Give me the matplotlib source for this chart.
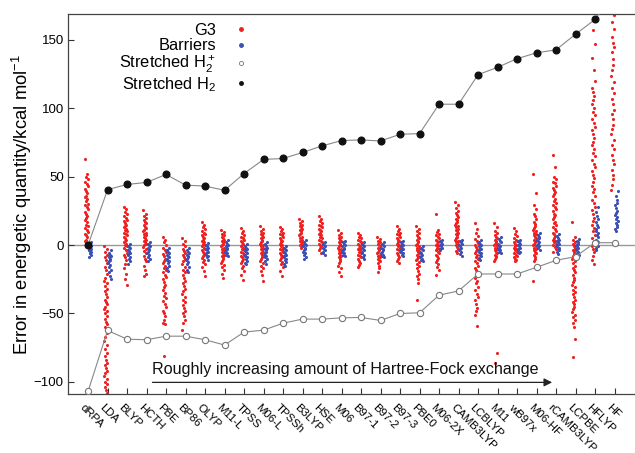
import matplotlib
matplotlib.use("Agg")
import matplotlib.pyplot as plt
from matplotlib.lines import Line2D
from matplotlib.transforms import ScaledTranslation

plt.rcParams['font.family'] = ['Liberation Sans', 'DejaVu Sans']
plt.rcParams['mathtext.fontset'] = 'custom'
plt.rcParams['mathtext.rm'] = 'Liberation Sans'
plt.rcParams['mathtext.it'] = 'Liberation Sans:italic'

functionals = ["dRPA", "LDA", "BLYP", "HCTH", "PBE", "BP86", "OLYP", "M11-L", "TPSS",
               "M06-L", "TPSSh", "B3LYP", "HSE", "M06", "B97-1", "B97-2", "B97-3", "PBE0",
               "M06-2X", "CAMB3LYP", "LCBLYP", "M11", "wB97x", "M06-HF", "rCAMB3LYP",
               "LCPBE", "HFLYP", "HF"]

stretched_h2 = [0, 40.5, 44.3, 45.8, 51.6, 43.8, 43.1, 40, 52.3, 62.6, 63.3, 67.7, 72.5,
                76.4, 76.9, 76.1, 81, 81.5, 103, 103, 124.6, 130, 136.3, 140.6, 142.8,
                154.2, 165, 185]
stretched_h2p = [-107, -62.5, -68.9, -69.3, -66.7, -66.7, -69.3, -73.2, -63.7, -62.3, -57.2,
                 -54.2, -54.2, -53.3, -53.0, -55.2, -50.1, -49.6, -36.7, -33.6, -21.2,
                 -21.2, -21.2, -16.3, -11.2, -8.5, 1.7, 1.7]

g3_drpa = [63, 52, 49.5, 48, 46, 44.5, 43, 41, 39.5, 38, 36, 35, 33.5, 32, 30, 29, 27.5, 26, 24.5, 23, 21, 20, 18.5, 17, 15, 14, 12.5, 11, 9.5, 8, 7, 5.5, 4, 3, 1.5, 0.5]
g3_lda = [-1, -3, -5, -7.5, -9, -11, -13, -16, -18, -21, -24, -26, -28, -30, -32.5, -34, -36, -38, -40, -41.5, -43, -45, -47, -48.5, -50, -52, -54, -56, -58, -60, -62, -64.5, -67, -70, -73, -76, -79, -81, -84, -86, -88, -90, -92, -94, -96, -98, -100, -102, -104, -106, -108]
g3_blyp = [28, 26, 24, 22.5, 21, 20, 18.5, 17.5, 16, 15, 14, 13, 12, 11, 10, 9, 8, 7, 6, 5, 4, 3, 2, 1, 0, -1, -2.5, -4, -5.5, -7, -9, -11, -14, -17, -21, -25, -29]
g3_hcth = [25.5, 23, 21.5, 20, 18.5, 17, 16, 15, 13.5, 12.5, 11, 10, 9, 8, 7, 6, 5, 4, 3, 2, 1, 0, -1.5, -3, -4.5, -6, -8, -10, -12, -15, -18, -21, -23]
g3_pbe = [6, 4, 2, 0, -2, -3.5, -5, -6.5, -8, -10, -11.5, -13, -15, -16.5, -18, -20, -22, -23.5, -25, -27, -29, -31, -33, -35, -37, -39, -41, -43, -45.5, -48, -50, -52, -54.5, -57, -58, -81]
g3_bp86 = [5, 3, 1, -1, -3, -4.5, -6, -7.5, -9, -10.5, -12, -14, -16, -18, -20, -22, -24, -26, -28, -30, -32, -34, -36, -38, -40, -42, -44, -46, -48, -50, -52, -55, -57, -62]
g3_olyp = [16.5, 14.5, 13, 11.5, 10, 9, 8, 7, 6, 5, 4, 3, 2, 1, 0, -1, -2, -3, -4, -5, -6.5, -8, -9.5, -11, -12.5, -14, -16, -19, -23]
g3_m11l = [11, 9.5, 8, 7, 6, 5, 4, 3, 2, 1, 0, -1, -2, -3, -4, -5, -6, -7, -8, -9, -10, -11.5, -13, -14.5, -16, -18, -21, -24]
g3_tpss = [12.5, 10.5, 9, 7.5, 6, 5, 4, 3, 2, 1, 0, -1, -2, -3, -4, -5, -6, -7, -8, -9, -10.5, -12, -13.5, -15, -17, -19, -22, -25.5]
g3_m06l = [14, 12, 10.5, 9, 8, 7, 6, 5, 4, 3, 2, 1, 0, -1, -2, -3, -4, -5, -6, -7, -8.5, -10, -11.5, -13, -15, -17, -19, -22, -26]
g3_tpssh = [13.5, 11.5, 10, 9, 8, 7, 6, 5, 4, 3, 2, 1, 0, -1, -2, -3, -4, -5, -6, -7, -8, -9.5, -11, -12.5, -14, -16, -19, -23]
g3_b3lyp = [19, 17.5, 16, 15, 14, 13, 12, 11, 10, 9, 8, 7, 6, 5, 4, 3, 2, 1, 0, -1, -2]
g3_hse = [21, 19, 17.5, 16, 15, 14, 13, 12, 11, 10, 9, 8, 7, 6, 5, 4, 3, 2, 1, 0, -1, -2.5, -4, -6]
g3_m06 = [11, 9, 7.5, 6, 5, 4, 3, 2, 1, 0, -1, -2, -3, -4, -5, -6, -7, -8, -9, -10, -11.5, -13, -15, -17, -19.5, -22.5]
g3_b971 = [9, 7.5, 6, 5, 4, 3, 2, 1, 0, -1, -2, -3, -4, -5, -6, -7, -8, -9, -10, -11.5, -13, -14.5, -16]
g3_b972 = [6, 4.5, 3, 2, 1, 0, -1, -2, -3, -4, -5, -6, -7, -8, -9, -10, -11, -12, -13.5, -15, -17, -19.5]
g3_b973 = [14, 12, 10.5, 9, 8, 7, 6, 5, 4, 3, 2, 1, 0, -1, -2, -3, -4, -5, -6, -7, -8.5, -10, -11.5, -13]
g3_pbe0 = [14, 12, 10, 8.5, 7, 6, 5, 4, 3, 2, 1, 0, -1, -2, -3, -4, -5, -6, -7, -8, -9, -10, -11, -12.5, -14, -15.5, -17, -19, -21, -23, -25, -27.5, -40]
g3_m062x = [22.5, 11, 9.5, 8, 7, 6, 5, 4, 3, 2, 1, 0, -1, -2, -3, -4, -5, -6, -7, -8, -9.5, -11, -12.5, -14, -16, -18, -22]
g3_camb3lyp = [31.5, 29, 27, 25, 23.5, 22, 20.5, 19, 18, 17, 16, 15, 14, 13, 12, 11, 10, 9, 8, 7, 6, 5, 4, 3, 2, 1, 0, -1.5, -3, -4.5, -6]
g3_lcblyp = [16, 12, 9, 6.5, 4.5, 3, 1.5, 0, -1.5, -3, -4.5, -6, -7.5, -9, -10.5, -12, -13.5, -15, -16.5, -18, -20, -22, -24, -26, -28, -30.5, -33, -35.5, -38, -40.5, -43, -46, -48, -51, -59]
g3_m11 = [16, 13, 10.5, 8.5, 7, 6, 5, 4, 3, 2, 1, 0, -1, -2, -3, -4, -5, -6, -7, -8, -9, -10.5, -12, -79, -86]
g3_wb97x = [12.5, 10, 8, 6.5, 5, 4, 3, 2, 1, 0, -1, -2, -3, -4, -5, -6, -7, -8, -9, -10, -11, -12]
g3_m06hf = [52, 38, 29, 26, 23, 21, 19, 17, 15.5, 14, 12.5, 11, 10, 9, 8, 7, 6, 5, 4, 3, 2, 1, 0, -1, -2, -3, -4, -5, -6, -7.5, -9, -10.5, -12, -26]
g3_rcamb3lyp = [65.5, 57, 49.5, 48, 46, 45, 43.5, 41.5, 40, 39, 37, 35.5, 34, 32.5, 31, 29, 28, 26.5, 25, 23, 22, 20.5, 19, 17, 16, 14.5, 13, 12, 10, 9, 8, 6.5, 5, 4, 3, 2, 1, 0, -1.5, -3, -5]
g3_lcpbe = [17, 6, 4, 2.5, 1, -0.5, -2, -3.5, -5, -6.5, -8, -10, -11.5, -13, -15, -17, -18.5, -20, -22, -24, -25.5, -27, -29, -31, -33, -34.5, -36, -38, -40, -42, -43.5, -45, -47, -49, -51, -53, -55, -57, -60, -68.5, -82]
g3_hflyp = [172, 166, 157, 147, 137, 128, 120, 115, 112, 109, 106, 103, 100, 97.5, 95, 92, 89, 86.5, 84, 81, 78, 75.5, 73, 70, 67.5, 65, 62, 59.5, 57, 54, 51.5, 49, 46, 43.5, 41, 38.5, 36, 33, 30.5, 28, 25.5, 23, 20, 17.5, 15, 12.5, 10, 7.5, 5, 3, 1, -1, -3, -5, -8, -11, -14]
g3_hf = [178, 168, 163, 158, 152, 148, 145, 141, 136, 132, 128, 124, 119, 115, 111, 107, 103, 99, 96, 92, 88, 85, 81, 77, 73, 70, 66, 62, 59, 55, 51, 48, 44, 40]

bar_drpa = [2.5, 1, 0, -1, -1.5, -2, -3, -3.5, -4, -5, -6, -7, -8.5, -5.5]
bar_lda = [-4, -5.5, -7, -8, -9, -10, -11, -12, -13, -14.5, -16, -18, -20, -23, -25]
bar_blyp = [1, -0.5, -1.5, -2.5, -3.5, -4.5, -5.5, -6.5, -7.5, -8.5, -10, -12, -14]
bar_hcth = [2.5, 1, 0, -1, -2, -3, -4, -5, -6, -7, -8.5, -10, -12]
bar_pbe = [-2, -3.5, -5, -6, -7, -8, -9, -10, -11, -12, -13.5, -15, -17, -19]
bar_bp86 = [-2.5, -4, -5, -6, -7, -8, -9, -10, -11, -12.5, -14, -16, -18, -20]
bar_olyp = [1.5, 0, -1, -2, -3, -4, -5, -6, -7, -8, -9, -11]
bar_m11l = [4, 2.5, 1, 0, -1, -2, -3, -4, -5, -6, -7, -8]
bar_tpss = [0.5, -1, -2, -3, -4, -5, -6, -7, -8, -9, -10, -11.5, -13, -14]
bar_m06l = [2, 0.5, -1, -2, -3, -4, -5, -6, -7, -8, -9, -10.5, -12, -14]
bar_tpssh = [-1, -2, -3, -4, -5, -6, -7, -8, -9, -10, -11, -12.5, -14, -15]
bar_b3lyp = [4, 2.5, 1, 0, -1, -2, -3, -4, -5, -6, -7, -8.5, -10]
bar_hse = [2, 1, 0, -1, -2, -3, -4, -5, -6, -7]
bar_m06 = [3, 2, 1, 0, -1, -2, -3, -4, -5, -6, -7, -8]
bar_b971 = [2, 1, 0, -1, -2, -3, -4, -5, -6, -7, -8.5, -10]
bar_b972 = [2, 1, 0, -1, -2, -3, -4, -5, -6, -7, -8, -9]
bar_b973 = [3, 2, 1, 0, -1, -2, -3, -4, -5, -6, -7, -8]
bar_pbe0 = [-1, -2, -3, -4, -5, -6, -7, -8, -9, -10, -11, -12]
bar_m062x = [4, 3, 2, 1, 0, -1, -2, -3, -4]
bar_camb3lyp = [4, 3, 2, 1, 0, -1, -2, -3, -4, -5, -6.5, -8]
bar_lcblyp = [3.5, 2, 1, 0, -1, -2, -3, -4, -5, -6, -7, -8, -9.5, -11]
bar_m11 = [6, 4.5, 3, 2, 1, 0, -1, -2, -3, -4, -5, -6]
bar_wb97x = [4, 3, 2, 1, 0, -1, -2, -3, -4, -5, -6]
bar_m06hf = [9, 7.5, 6, 5, 4, 3, 2, 1, 0, -1, -2, -3.5]
bar_rcamb3lyp = [8, 6.5, 5, 4, 3, 2, 1, 0, -1, -2, -3, -4, -5, -6.5]
bar_lcpbe = [4.5, 3, 2, 1, 0, -1, -2, -3, -4, -5, -6, -7, -8, -9]
bar_hflyp = [27.5, 24, 21.5, 19, 17, 15, 13, 11.5, 10, 8.5, 7, 5.5, 4, 3, 2, 1, 0, -1, -2.5, -4]
bar_hf = [39.5, 36, 33, 31, 29, 27, 25, 23.5, 22, 20.5, 19, 17.5, 16, 14.5, 13, 11.5, 10.5, 1]

g3_all = [g3_drpa, g3_lda, g3_blyp, g3_hcth, g3_pbe, g3_bp86, g3_olyp, g3_m11l, g3_tpss,
          g3_m06l, g3_tpssh, g3_b3lyp, g3_hse, g3_m06, g3_b971, g3_b972, g3_b973, g3_pbe0,
          g3_m062x, g3_camb3lyp, g3_lcblyp, g3_m11, g3_wb97x, g3_m06hf, g3_rcamb3lyp,
          g3_lcpbe, g3_hflyp, g3_hf]
bar_all = [bar_drpa, bar_lda, bar_blyp, bar_hcth, bar_pbe, bar_bp86, bar_olyp, bar_m11l,
           bar_tpss, bar_m06l, bar_tpssh, bar_b3lyp, bar_hse, bar_m06, bar_b971, bar_b972,
           bar_b973, bar_pbe0, bar_m062x, bar_camb3lyp, bar_lcblyp, bar_m11, bar_wb97x,
           bar_m06hf, bar_rcamb3lyp, bar_lcpbe, bar_hflyp, bar_hf]

RED = '#f02020'
BLUE = '#3a50b4'
JIT = [-0.08, 0.05, -0.02, 0.08, -0.05, 0.02, 0.065, -0.065, 0.0, 0.035, -0.035]

fig = plt.figure(figsize=(6.35, 4.53), dpi=100)
ax = fig.add_axes([68/635, 1-394/453, 1-68/635, (394-14)/453])

ax.axhline(0, color='#999999', lw=1.0, zorder=1)

for i, vals in enumerate(g3_all):
    xs = [i - 0.09 + JIT[k % len(JIT)] for k in range(len(vals))]
    ax.scatter(xs, vals, s=5, color=RED, linewidths=0, zorder=2)
for i, vals in enumerate(bar_all):
    xs = [i + 0.1 + 0.8 * JIT[(k + 3) % len(JIT)] for k in range(len(vals))]
    ax.scatter(xs, vals, s=5, color=BLUE, linewidths=0, zorder=3)

idx = list(range(len(functionals)))
ax.plot(idx, stretched_h2p, color='#888888', lw=0.8, marker='o', markersize=4.5,
        markerfacecolor='white', markeredgecolor='#777777', markeredgewidth=0.8, zorder=4)
ax.plot(idx, stretched_h2, color='#888888', lw=0.8, marker='o', markersize=4.8,
        markerfacecolor='#111111', markeredgecolor='#111111', zorder=5, clip_on=True)

ax.set_xlim(-1.03, 28.05)
ax.set_ylim(-109, 169)
ax.set_yticks([-100, -50, 0, 50, 100, 150])
ax.set_xticks(idx)
ax.set_xticklabels(functionals, rotation=-45, ha='left', va='top', rotation_mode='anchor',
                   fontsize=8.2)
ax.tick_params(axis='both', direction='in', length=4, width=0.8, color='#333333')
ax.tick_params(axis='y', labelsize=9.5, pad=3)
ax.tick_params(axis='x', pad=4)
shift = ScaledTranslation(-3/100, -3/100, fig.dpi_scale_trans)
for lbl in ax.get_xticklabels():
    lbl.set_transform(lbl.get_transform() + shift)
ax.spines['right'].set_visible(False)
for s in ['left', 'bottom', 'top']:
    ax.spines[s].set_color('#444444')
    ax.spines[s].set_linewidth(0.9)

ax.set_ylabel('Error in energetic quantity/kcal mol$^{-1}$', fontsize=13.3, labelpad=0)

handles = [
    Line2D([], [], ls='none', marker='o', markersize=2.5, color=RED),
    Line2D([], [], ls='none', marker='o', markersize=2.5, color=BLUE),
    Line2D([], [], ls='none', marker='o', markersize=3, markerfacecolor='white',
           markeredgecolor='#777777', markeredgewidth=0.6),
    Line2D([], [], ls='none', marker='o', markersize=2.5, color='#111111'),
]
labels = ['G3', 'Barriers', 'Stretched H$_2^+$', 'Stretched H$_2$']
ax.legend(handles, labels, loc='upper right', bbox_to_anchor=(248/635, 1-23/453),
          bbox_transform=fig.transFigure, frameon=False, markerfirst=False,
          fontsize=11.8, handlelength=0.8, handletextpad=1.15, labelspacing=0.02,
          borderpad=0, borderaxespad=0)

ax.annotate('', xy=(23.8, -100.5), xytext=(3.3, -100.5),
            arrowprops=dict(arrowstyle='-|>', color='#222222', lw=0.9,
                            mutation_scale=12, shrinkA=0, shrinkB=0))
ax.text(3.3, -96.5, 'Roughly increasing amount of Hartree-Fock exchange', fontsize=11.6,
        ha='left', va='bottom', color='#111111')

fig.savefig('out.png', dpi=100)
